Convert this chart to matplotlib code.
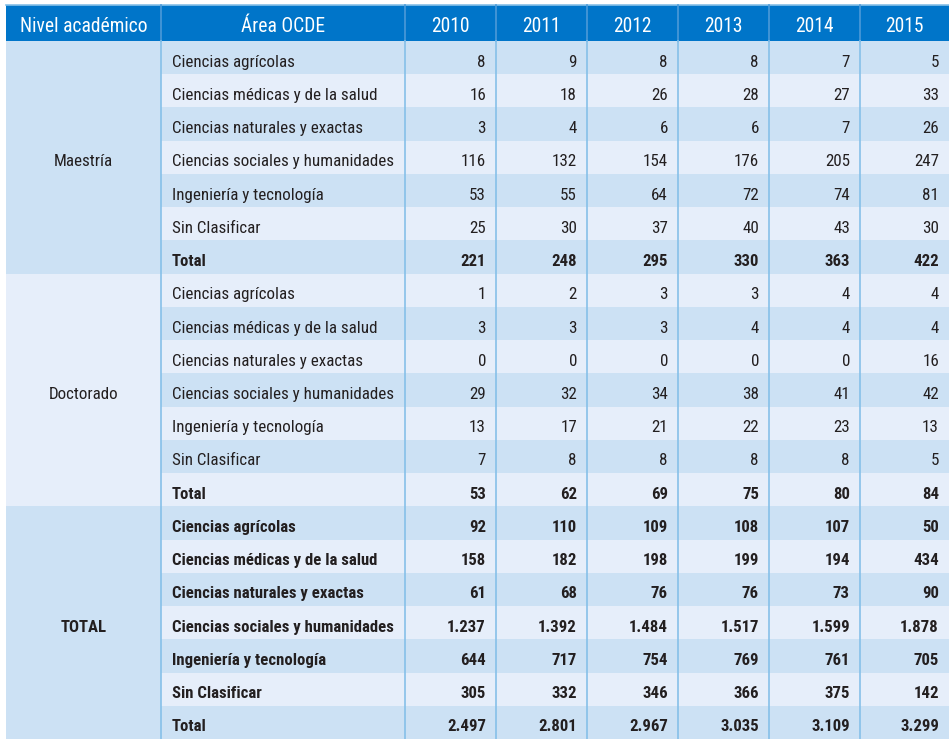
import matplotlib
matplotlib.use("Agg")
import matplotlib.pyplot as plt
from matplotlib import font_manager
from matplotlib.patches import Rectangle

# Data
years = ['2010', '2011', '2012', '2013', '2014', '2015']
areas = ['Ciencias agrícolas', 'Ciencias médicas y de la salud',
         'Ciencias naturales y exactas', 'Ciencias sociales y humanidades',
         'Ingeniería y tecnología', 'Sin Clasificar', 'Total']
groups = ['Maestría', 'Doctorado', 'TOTAL']

maestria = [[8, 9, 8, 8, 7, 5],
            [16, 18, 26, 28, 27, 33],
            [3, 4, 6, 6, 7, 26],
            [116, 132, 154, 176, 205, 247],
            [53, 55, 64, 72, 74, 81],
            [25, 30, 37, 40, 43, 30],
            [221, 248, 295, 330, 363, 422]]
doctorado = [[1, 2, 3, 3, 4, 4],
             [3, 3, 3, 4, 4, 4],
             [0, 0, 0, 0, 0, 16],
             [29, 32, 34, 38, 41, 42],
             [13, 17, 21, 22, 23, 13],
             [7, 8, 8, 8, 8, 5],
             [53, 62, 69, 75, 80, 84]]
total = [[92, 110, 109, 108, 107, 50],
         [158, 182, 198, 199, 194, 434],
         [61, 68, 76, 76, 73, 90],
         [1237, 1392, 1484, 1517, 1599, 1878],
         [644, 717, 754, 769, 761, 705],
         [305, 332, 346, 366, 375, 142],
         [2497, 2801, 2967, 3035, 3109, 3299]]
group_values = [maestria, doctorado, total]

# Colours
HEADER = '#0075c9'
DARK = '#cce1f4'
LIGHT = '#e6eefa'
VLINE = '#86c0e8'
TXT = '#231f20'

# Font choice
names = set(f.name for f in font_manager.fontManager.ttflist)
family = 'Roboto'
for cand in ['Roboto Condensed', 'Liberation Sans Narrow', 'Roboto']:
    if cand in names:
        family = cand
        break

W, H = 949, 739
fig = plt.figure(figsize=(W / 100, H / 100), dpi=100)
ax = fig.add_axes([0, 0, 1, 1])
ax.set_xlim(0, W)
ax.set_ylim(H, 0)
ax.axis('off')

# Layout (pixels)
col_edges = [6, 161, 405, 496, 587, 678, 769, 860, 949]
head_top, head_bot = 4.5, 41
row_h = (739 - head_bot) / 21.0
dy = 4.5  # text sits a bit below row centre

# fit font sizes to measured text widths
renderer = fig.canvas.get_renderer()
def fit_size(s, target, weight='normal'):
    t = ax.text(0, 0, s, fontsize=10, family=family, weight=weight)
    w = t.get_window_extent(renderer).width
    t.remove()
    return 10 * target / w

body_fs = fit_size('Ciencias sociales y humanidades', 221)
bold_fs = fit_size('Ciencias sociales y humanidades', 222, 'bold')
head_fs = fit_size('Nivel académico', 127)

def fmt(v):
    return f'{v:,}'.replace(',', '.')

# header
ax.add_patch(Rectangle((col_edges[0], head_top), col_edges[-1] - col_edges[0],
                       head_bot - head_top, color=HEADER, lw=0))
ax.plot([col_edges[0], col_edges[-1]], [head_top, head_top], color=VLINE, lw=1.2)
headers = ['Nivel académico', 'Área OCDE'] + years
for i, h in enumerate(headers):
    xc = (col_edges[i] + col_edges[i + 1]) / 2
    ax.text(xc, (head_top + head_bot) / 2 + 4, h, color='white', fontsize=head_fs,
            family=family, ha='center', va='center')

# body rows
for g, grp in enumerate(groups):
    vals = group_values[g]
    g_top = head_bot + g * 7 * row_h
    gcol = DARK if g % 2 == 0 else LIGHT
    ax.add_patch(Rectangle((col_edges[0], g_top), col_edges[1] - col_edges[0],
                           7 * row_h, color=gcol, lw=0))
    gb = grp == 'TOTAL'
    ax.text((col_edges[0] + col_edges[1]) / 2, g_top + 3.5 * row_h + dy, grp,
            fontsize=bold_fs if gb else body_fs, family=family, color=TXT,
            ha='center', va='center', weight='bold' if gb else 'normal')
    for r, area in enumerate(areas):
        idx = g * 7 + r
        y0 = head_bot + idx * row_h
        rc = DARK if idx % 2 == 0 else LIGHT
        ax.add_patch(Rectangle((col_edges[1], y0), col_edges[-1] - col_edges[1],
                               row_h + 0.5, color=rc, lw=0))
        bold = area == 'Total' or grp == 'TOTAL'
        wt = 'bold' if bold else 'normal'
        fs = bold_fs if bold else body_fs
        yc = y0 + row_h / 2 + dy
        ax.text(col_edges[1] + 11, yc, area, fontsize=fs, family=family,
                color=TXT, ha='left', va='center', weight=wt)
        for c, v in enumerate(vals[r]):
            ax.text(col_edges[c + 3] - 10, yc, fmt(v), fontsize=fs,
                    family=family, color=TXT, ha='right', va='center', weight=wt)

# vertical separators
for x in col_edges[1:-1]:
    ax.plot([x, x], [head_top, head_bot], color='#4c9ad8', lw=1.2)
    ax.plot([x, x], [head_bot, H], color=VLINE, lw=1.2)

fig.savefig('out.png', dpi=100)
